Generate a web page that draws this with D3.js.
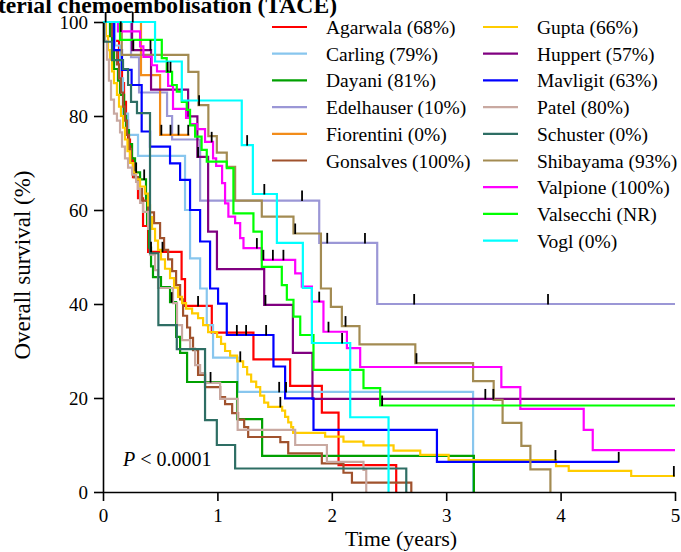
<!DOCTYPE html>
<html>
<head>
<meta charset="utf-8">
<script src="https://cdn.jsdelivr.net/npm/d3@7"></script>
<style>
  html, body { margin: 0; padding: 0; background: #fff; }
  svg { display: block; }
</style>
</head>
<body>
<svg id="chart" width="681" height="552"></svg>
<script>
// Kaplan–Meier overall survival per study: each step is [time in years, survival % after the event]
const seriesNames = ["Agarwala", "Carling", "Dayani", "Edelhauser", "Fiorentini", "Gonsalves",
  "Gupta", "Huppert", "Mavligit", "Patel", "Schuster", "Shibayama", "Valpione", "Valsecchi", "Vogl"];
const legendLabels = ["Agarwala (68%)", "Carling (79%)", "Dayani (81%)", "Edelhauser (10%)",
  "Fiorentini (0%)", "Gonsalves (100%)", "Gupta (66%)", "Huppert (57%)", "Mavligit (63%)",
  "Patel (80%)", "Schuster (0%)", "Shibayama (93%)", "Valpione (100%)", "Valsecchi (NR)", "Vogl (0%)"];
const seriesColors = ["#ff0000", "#88c6ee", "#00a000", "#9b97d6", "#f28c1a", "#a0522d",
  "#ffcc00", "#800080", "#0000ff", "#c9a9a1", "#2e6e64", "#a38b52", "#ff00ff", "#00ff00", "#00ffff"];

const agarwalaSteps = [[0.096, 96], [0.14, 91], [0.166, 87], [0.184, 83], [0.201, 79], [0.219, 75],
  [0.236, 71], [0.262, 67], [0.306, 62.5], [0.35, 56.6], [0.394, 51.1], [0.687, 45.3], [0.717, 39.6],
  [0.951, 33.9], [1.315, 28.2], [1.636, 22.6], [1.913, 16.9], [2.059, 5.7], [2.563, 0]];
const agarwalaCensored = [0.42, 0.52, 0.831];

const carlingSteps = [[0.105, 95], [0.149, 88], [0.175, 80.5], [0.219, 76], [0.306, 71.5], [0.717, 60],
  [0.761, 49.7], [0.849, 43.3], [0.907, 35.5], [0.962, 28.6], [1.177, 21.3], [3.235, 0]];
const carlingCensored = [1.54, 1.60];

const dayaniSteps = [[0.061, 97], [0.079, 94], [0.096, 90], [0.131, 87.5], [0.149, 84.5], [0.184, 80],
  [0.201, 77], [0.227, 74], [0.254, 71], [0.28, 68], [0.324, 66.5], [0.376, 62], [0.385, 57],
  [0.402, 52], [0.42, 48], [0.437, 45.7], [0.507, 43.6], [0.586, 40.4], [0.639, 33], [0.674, 29.6],
  [0.735, 23.4], [1.172, 15.5], [1.391, 7.7], [3.242, 0]];
const dayaniCensored = [0.29, 0.36, 0.6, 0.94];

const edelhauserSteps = [[0.245, 92.5], [0.315, 85], [0.56, 80], [0.604, 75], [0.849, 62],
  [1.89, 53], [2.397, 40]];
const edelhauserCensored = [1.74, 1.96, 2.29, 2.72, 3.89];

const fiorentiniSteps = [[0.332, 88.7], [0.499, 76]];
const fiorentiniCensored = [0.51, 0.59, 0.66, 0.745];

const gonsalvesSteps = [[0.079, 97], [0.096, 94], [0.122, 91], [0.14, 88], [0.157, 85], [0.175, 82],
  [0.192, 79], [0.21, 76], [0.227, 73], [0.245, 70], [0.271, 67], [0.306, 64.5], [0.341, 62],
  [0.394, 59.5], [0.446, 57.2], [0.499, 54], [0.534, 51.5], [0.569, 49.5], [0.604, 47], [0.639, 44],
  [0.674, 41], [0.7, 37.5], [0.735, 35], [0.761, 32.8], [0.787, 30.2], [0.831, 24.9], [0.892, 22.3],
  [1.024, 20.2], [1.067, 18.7], [1.129, 16.8], [1.181, 15.4], [1.234, 13.8], [1.269, 11.7],
  [1.55, 10.6], [1.619, 8.2], [1.913, 6.1], [2.102, 4.1], [2.176, 2.0], [2.695, 0]];
const gonsalvesCensored = [];

const guptaSteps = [[0.026, 97], [0.044, 94], [0.061, 92], [0.079, 89.5], [0.096, 87], [0.122, 84.5],
  [0.14, 82], [0.157, 80], [0.175, 77.5], [0.192, 75], [0.214, 72.5], [0.236, 70], [0.262, 68],
  [0.289, 66.5], [0.324, 65], [0.367, 63.5], [0.394, 61], [0.411, 58.5], [0.429, 56], [0.455, 53.5],
  [0.481, 51.5], [0.507, 49.5], [0.542, 47.5], [0.586, 45.5], [0.621, 43.5], [0.656, 41.5],
  [0.691, 40.2], [0.726, 39], [0.779, 38], [0.831, 37], [0.875, 35.5], [0.919, 34], [0.997, 33],
  [1.032, 31.5], [1.067, 30], [1.111, 29], [1.172, 27.8], [1.225, 26.6], [1.26, 25], [1.295, 23.5],
  [1.339, 22.3], [1.374, 20.5], [1.409, 19], [1.444, 18.1], [1.566, 17.3], [1.592, 16], [1.619, 14.8],
  [1.645, 13.8], [1.662, 12.6], [1.942, 11.8], [2.102, 10.7], [2.277, 9.9], [2.54, 8.8],
  [2.773, 7.9], [3.021, 6.8], [3.96, 5.5], [4.071, 4.5], [4.617, 3.4]];
const guptaCensored = [1.2, 1.55, 3.955, 4.99];

const huppertSteps = [[0.254, 94], [0.42, 85.6], [0.744, 79.9], [0.825, 71.3], [0.919, 55.4],
  [0.996, 47.4], [1.409, 39.8], [1.66, 29.6], [1.831, 19.8]];
const huppertCensored = [0.265, 0.415, 0.831, 1.42, 3.342, 3.412];

const mavligitSteps = [[0.096, 94], [0.166, 89.8], [0.25, 86.6], [0.338, 76.7], [0.411, 73.5],
  [0.586, 69.9], [0.674, 66.4], [0.761, 60], [0.849, 53.3], [0.936, 43.3], [1.006, 40.1],
  [1.082, 33.4], [1.49, 26.7], [1.592, 19.9], [1.84, 13.2], [2.919, 6.4]];
const mavligitCensored = [1.17, 1.251, 1.426, 4.508];

const patelSteps = [[0.017, 96], [0.035, 92], [0.052, 87.5], [0.07, 83.5], [0.096, 80.5], [0.122, 79],
  [0.149, 76.5], [0.166, 73.5], [0.192, 71], [0.219, 69], [0.254, 67.5], [0.289, 66], [0.306, 64.5],
  [0.324, 61.5], [0.35, 59.6], [0.394, 56], [0.411, 50.5], [0.455, 47.2], [0.481, 43.4], [0.612, 40.2],
  [0.647, 35.5], [0.691, 32.3], [0.761, 30.5], [0.805, 27], [0.849, 25.3], [0.892, 23.2],
  [1.024, 19.8], [1.177, 13.2], [1.68, 10], [1.957, 6.4], [2.277, 4.7], [2.301, 0]];
const patelCensored = [];

const schusterSteps = [[0.009, 95.8], [0.079, 91.9], [0.175, 90], [0.219, 86.6], [0.245, 83],
  [0.297, 80.6], [0.411, 50.8], [0.484, 35.5], [0.645, 30.4], [0.892, 15.3], [0.995, 10],
  [1.155, 5], [2.651, 0]];
const schusterCensored = [];

const shibayamaSteps = [[0.164, 93], [0.746, 89.4], [0.834, 82.3], [0.921, 75.7], [0.995, 72.2],
  [1.082, 69.2], [1.155, 62], [1.388, 58.6], [1.665, 55], [1.905, 43.3], [1.992, 39.4], [2.088, 35.3],
  [2.242, 31.4], [2.73, 27.4], [3.235, 23.6], [3.415, 19.6], [3.493, 14.7], [3.657, 9.8],
  [3.736, 4.8], [3.911, 0]];
const shibayamaCensored = [0.84, 1.68, 2.12, 2.74];

const valpioneSteps = [[0.131, 98], [0.324, 94.8], [0.353, 92.6], [0.426, 90.8], [0.472, 89.5],
  [0.569, 86.4], [0.612, 81.5], [0.726, 79.6], [0.761, 78.3], [0.822, 77.2], [0.892, 74.5],
  [0.962, 71], [0.989, 69.4], [1.041, 65.7], [1.067, 61.4], [1.096, 58.6], [1.155, 57.2], [1.199, 54],
  [1.228, 51.9], [1.388, 49.4], [1.68, 46.5], [1.738, 43.7], [1.826, 40.5], [1.927, 34.1],
  [2.132, 30.6], [2.248, 26.6], [3.482, 22.3], [3.648, 17.7], [4.202, 13.2], [4.281, 8.9]];
const valpioneCensored = [0.155, 0.95, 1.345, 1.402, 1.485, 1.577, 1.89, 1.971];

const valsecchiSteps = [[0.149, 96.2], [0.514, 92.3], [0.557, 89.4], [0.604, 86.6], [0.645, 85.2],
  [0.689, 83], [0.732, 81.3], [0.761, 78], [0.805, 75.6], [0.862, 72.8], [0.907, 70.3],
  [1.082, 68.9], [1.14, 59.3], [1.315, 55.4], [1.388, 47.9], [1.563, 44], [1.607, 40.9],
  [1.665, 37.3], [1.724, 33.4], [1.84, 26], [2.277, 22.1], [2.423, 18.4]];
const valsecchiCensored = [0.565, 0.59, 2.44];

const voglSteps = [[0.455, 91.6], [0.689, 83.3], [1.213, 73.8], [1.31, 63.4], [1.52, 53],
  [1.747, 43.4], [1.826, 31.7], [2.161, 15.9], [2.496, 0]];
const voglCensored = [0.023, 0.26, 1.26, 1.41, 2.09];

// last follow-up time of each curve (years)
const followUpEnds = [2.563, 3.235, 3.242, 5, 0.755, 2.695, 5, 5, 4.508, 2.301, 2.651, 3.911, 5, 5, 2.496];

const stepSets = [agarwalaSteps, carlingSteps, dayaniSteps, edelhauserSteps, fiorentiniSteps,
  gonsalvesSteps, guptaSteps, huppertSteps, mavligitSteps, patelSteps, schusterSteps,
  shibayamaSteps, valpioneSteps, valsecchiSteps, voglSteps];
const censorSets = [agarwalaCensored, carlingCensored, dayaniCensored, edelhauserCensored,
  fiorentiniCensored, gonsalvesCensored, guptaCensored, huppertCensored, mavligitCensored,
  patelCensored, schusterCensored, shibayamaCensored, valpioneCensored, valsecchiCensored,
  voglCensored];

const xTicks = [0, 1, 2, 3, 4, 5];
const yTicks = [0, 20, 40, 60, 80, 100];
const titleText = "Transarterial chemoembolisation (TACE)";
const xTitle = "Time (years)";
const yTitle = "Overall survival (%)";

// ---- drawing ----
const SERIF = "'Liberation Serif', 'Times New Roman', Times, serif";
const svg = d3.select("#chart").attr("font-family", SERIF);
const x = d3.scaleLinear().domain([0, 5]).range([103, 675]);
const y = d3.scaleLinear().domain([0, 100]).range([492, 22]);

// survival value at time t for a step list
function survAt(steps, t) {
  let v = 100;
  for (const [st, sv] of steps) { if (st <= t) v = sv; else break; }
  return v;
}

const line = d3.line()
  .x(d => x(d[0]))
  .y(d => y(d[1]))
  .curve(d3.curveStepAfter);

const curves = svg.append("g").attr("class", "curves");
stepSets.forEach((steps, i) => {
  const end = followUpEnds[i];
  const pts = [[0, 100], ...steps.filter(s => s[0] <= end)];
  pts.push([end, survAt(steps, end)]);
  curves.append("path")
    .datum(pts)
    .attr("d", line)
    .attr("fill", "none")
    .attr("stroke", seriesColors[i])
    .attr("stroke-width", 2.2)
    .attr("stroke-linejoin", "miter");
});

// censoring marks
const marks = svg.append("g").attr("class", "censor");
censorSets.forEach((cs, i) => {
  cs.forEach(t => {
    const v = survAt(stepSets[i], t);
    marks.append("line")
      .attr("x1", x(t)).attr("x2", x(t))
      .attr("y1", y(v) - 10).attr("y2", y(v) + 0.5)
      .attr("stroke", "#000")
      .attr("stroke-width", 1.8);
  });
});

// axes
const xAxis = svg.append("g")
  .attr("transform", `translate(0,${y(0)})`)
  .call(d3.axisBottom(x).tickValues(xTicks).tickFormat(d3.format("d"))
    .tickSize(9).tickSizeOuter(0).tickPadding(8));
const yAxis = svg.append("g")
  .attr("transform", `translate(${x(0)},0)`)
  .call(d3.axisLeft(y).tickValues(yTicks).tickFormat(d3.format("d"))
    .tickSize(9).tickSizeOuter(0).tickPadding(6));
[xAxis, yAxis].forEach(g => {
  g.attr("font-family", SERIF).attr("font-size", 19);
  g.select(".domain").attr("stroke", "#000").attr("stroke-width", 1.6);
  g.selectAll(".tick line").attr("stroke", "#000").attr("stroke-width", 1.6);
  g.selectAll(".tick text").attr("fill", "#000");
});

// axis titles
svg.append("text")
  .attr("x", 401).attr("y", 546)
  .attr("text-anchor", "middle")
  .attr("font-family", SERIF).attr("font-size", 22)
  .text(xTitle);
svg.append("text")
  .attr("transform", "translate(30,265) rotate(-90)")
  .attr("text-anchor", "middle")
  .attr("font-family", SERIF).attr("font-size", 23)
  .text(yTitle);

// title (runs off the left edge)
svg.append("text")
  .attr("x", 337).attr("y", 12.5)
  .attr("text-anchor", "end")
  .attr("font-family", SERIF).attr("font-size", 23.6)
  .attr("font-weight", "bold")
  .text(titleText);

// p-value
const pText = svg.append("text")
  .attr("x", 123).attr("y", 466)
  .attr("font-family", SERIF).attr("font-size", 20);
pText.append("tspan").attr("font-style", "italic").text("P");
pText.append("tspan").text(" < 0.0001");

// legend: two columns
const legend = svg.append("g").attr("class", "legend");
legendLabels.forEach((lab, i) => {
  const col = i < 6 ? 0 : 1;
  const row = col === 0 ? i : i - 6;
  const ly = 27 + row * 26.7;
  const lx = col === 0 ? 272 : 483;
  legend.append("line")
    .attr("x1", lx).attr("x2", lx + 35)
    .attr("y1", ly).attr("y2", ly)
    .attr("stroke", seriesColors[i]).attr("stroke-width", 2.2);
  legend.append("text")
    .attr("x", lx + 54).attr("y", ly + 7)
    .attr("font-family", SERIF).attr("font-size", 19.5)
    .text(lab);
});
</script>
</body>
</html>
